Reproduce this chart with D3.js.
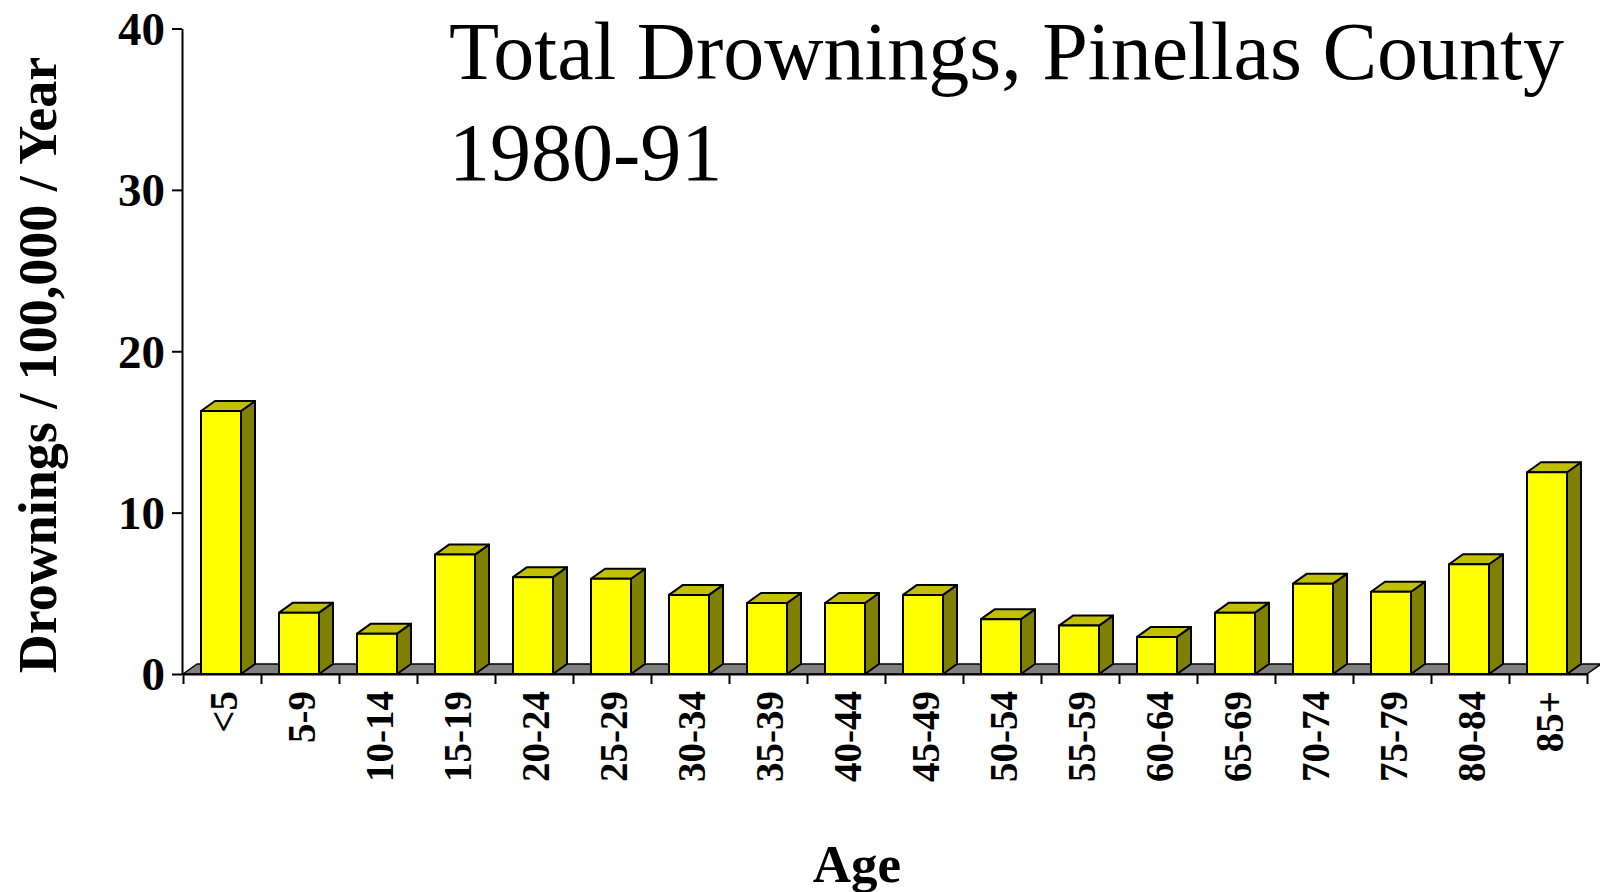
<!DOCTYPE html>
<html>
<head>
<meta charset="utf-8">
<script src="https://cdn.jsdelivr.net/npm/d3@7"></script>
<style>
    html, body { margin: 0; padding: 0; background: #fff; }
    svg { display: block; }
</style>
</head>
<body>
<div id="chart"></div>
<script>
// age groups and drowning rates per 100,000 per year
const ageGroups = ["<5", "5-9", "10-14", "15-19", "20-24", "25-29", "30-34", "35-39", "40-44",
    "45-49", "50-54", "55-59", "60-64", "65-69", "70-74", "75-79", "80-84", "85+"];
const rates = [16.3, 3.8, 2.5, 7.4, 6.0, 5.9, 4.9, 4.4, 4.4, 4.9, 3.4, 3.0, 2.3, 3.8, 5.6, 5.1, 6.8, 12.5];
const yTicks = [0, 10, 20, 30, 40];
const titleLines = ["Total Drownings, Pinellas County", "1980-91"];

const data = ageGroups.map((a, i) => ({age: a, rate: rates[i]}));

const width = 1600, height = 892;
const plot = {left: 183, right: 1587, top: 28.5, bottom: 674};
const depth = {dx: 14, dy: -10};
const barW = 40;

const svg = d3.select("#chart").append("svg")
    .attr("width", width)
    .attr("height", height);

const x = d3.scaleBand()
    .domain(ageGroups)
    .range([plot.left, plot.right])
    .padding(0);

const y = d3.scaleLinear()
    .domain([0, 40])
    .range([plot.bottom, plot.top]);

const serif = "'Liberation Serif', 'Times New Roman', serif";

// floor
const floor = [
    [plot.left, plot.bottom],
    [plot.right, plot.bottom],
    [plot.right + depth.dx, plot.bottom + depth.dy],
    [plot.left + depth.dx, plot.bottom + depth.dy]
];
svg.append("polygon")
    .attr("points", floor.map(p => p.join(",")).join(" "))
    .attr("fill", "#808080")
    .attr("stroke", "#000")
    .attr("stroke-width", 1.5)
    .attr("stroke-linejoin", "round");

// bars
const bars = svg.append("g").selectAll("g.bar")
    .data(data)
    .join("g")
    .attr("class", "bar");

const x0 = d => x(d.age) + (x.bandwidth() - barW) / 2 - 1;

bars.append("polygon")  // side
    .attr("points", d => {
        const xr = x0(d) + barW, yt = y(d.rate), yb = y(0);
        return [[xr, yb], [xr + depth.dx, yb + depth.dy], [xr + depth.dx, yt + depth.dy], [xr, yt]]
            .map(p => p.join(",")).join(" ");
    })
    .attr("fill", "#808000");

bars.append("polygon")  // top
    .attr("points", d => {
        const xl = x0(d), yt = y(d.rate);
        return [[xl, yt], [xl + barW, yt], [xl + barW + depth.dx, yt + depth.dy], [xl + depth.dx, yt + depth.dy]]
            .map(p => p.join(",")).join(" ");
    })
    .attr("fill", "#c0c000");

bars.append("rect")  // front
    .attr("x", x0)
    .attr("y", d => y(d.rate))
    .attr("width", barW)
    .attr("height", d => y(0) - y(d.rate))
    .attr("fill", "#ffff00");

bars.selectAll("polygon, rect")
    .attr("stroke", "#000")
    .attr("stroke-width", 2)
    .attr("stroke-linejoin", "round");

// y axis
const yAxis = svg.append("g")
    .attr("transform", `translate(${plot.left - 1},0)`)
    .call(d3.axisLeft(y).tickValues(yTicks).tickSize(10).tickSizeOuter(0).tickPadding(7));

yAxis.select(".domain").attr("stroke", "#000").attr("stroke-width", 2);
yAxis.selectAll(".tick line").attr("stroke", "#000").attr("stroke-width", 2);
yAxis.selectAll(".tick text")
    .attr("font-family", serif)
    .attr("font-weight", "bold")
    .attr("font-size", 47)
    .attr("fill", "#000")
    .attr("dy", "0.34em");

// x axis: ticks at category boundaries
const xb = d3.scaleLinear().domain([0, ageGroups.length]).range([plot.left, plot.right]);
const xAxis = svg.append("g")
    .attr("transform", `translate(0,${plot.bottom})`)
    .call(d3.axisBottom(xb).tickValues(d3.range(ageGroups.length + 1)).tickFormat("").tickSize(10).tickSizeOuter(0));

xAxis.select(".domain").attr("stroke", "#000").attr("stroke-width", 2);
xAxis.selectAll(".tick line").attr("stroke", "#000").attr("stroke-width", 2);

svg.append("g").selectAll("text")
    .data(ageGroups)
    .join("text")
    .attr("transform", d => `translate(${x(d) + x.bandwidth() / 2 + 15},${plot.bottom + 17}) rotate(-90)`)
    .attr("text-anchor", "end")
    .attr("font-family", serif)
    .attr("font-weight", "bold")
    .attr("font-size", 39)
    .attr("fill", "#000")
    .text(d => d);

// axis titles
svg.append("text")
    .attr("transform", "translate(56,365) rotate(-90)")
    .attr("text-anchor", "middle")
    .attr("font-family", serif)
    .attr("font-weight", "bold")
    .attr("font-size", 54)
    .text("Drownings / 100,000 / Year");

svg.append("text")
    .attr("x", 857)
    .attr("y", 882)
    .attr("text-anchor", "middle")
    .attr("font-family", serif)
    .attr("font-weight", "bold")
    .attr("font-size", 53)
    .text("Age");

// title
svg.append("g").selectAll("text")
    .data(titleLines)
    .join("text")
    .attr("x", 449)
    .attr("y", (d, i) => 79 + i * 101)
    .attr("font-family", serif)
    .attr("font-size", 82)
    .attr("fill", "#000")
    .text(d => d);
</script>
</body>
</html>
